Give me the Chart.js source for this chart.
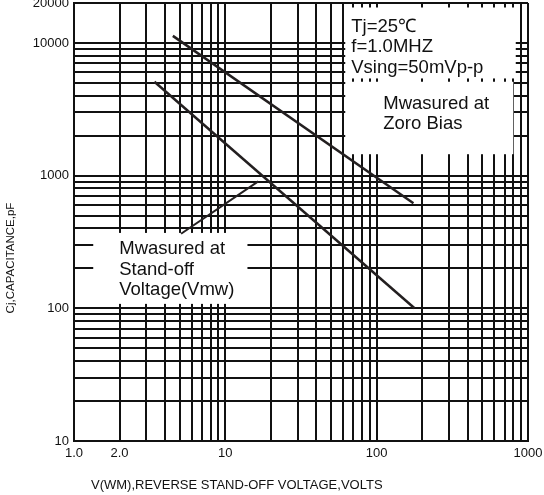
<!DOCTYPE html>
<html>
<head>
<meta charset="utf-8">
<script src="https://cdn.jsdelivr.net/npm/chart.js@4/dist/chart.umd.min.js"></script>
<style>
  html, body { margin: 0; padding: 0; background: #fff; }
  #wrap { width: 544px; height: 495px; }
</style>
</head>
<body>
<div id="wrap"><canvas id="capChart" width="544" height="495"></canvas></div>
<script>
// grid / tick values
const xTicks = [1, 2, 3, 4, 5, 6, 7, 8, 9, 10, 20, 30, 40, 50, 60, 70, 80, 90,
  100, 200, 300, 400, 500, 600, 700, 800, 900, 1000];
const xLabelValues = [1, 2, 10, 100, 1000];
const xLabelText = ["1.0", "2.0", "10", "100", "1000"];

const yTicks = [10, 20, 30, 40, 50, 60, 70, 80, 90, 100, 200, 300, 400, 500, 600, 700, 800, 900,
  1000, 2000, 3000, 4000, 5000, 6000, 7000, 8000, 9000, 10000, 20000];
const yLabelValues = [10, 100, 1000, 10000, 20000];
const yLabelText = ["10", "100", "1000", "10000", "20000"];

// curves
const zeroBiasV = [4.5, 175];
const zeroBiasC = [11300, 620];
const standOffV = [3.4, 178];
const standOffC = [5100, 100];
const pointerV = [5.1, 16.5];
const pointerC = [365, 905];

const notes = [
  { box: [62, 830, 5400, 18500], dx: 6, dy: 19, lines: ["Tj=25\u2103", "f=1.0MHZ", "Vsing=50mVp-p"] },
  { box: [62, 800, 1450, 5100], dx: 38, dy: 22, lines: ["Mwasured at", "Zoro Bias"] },
  { box: [1.34, 14, 108, 370], dx: 26, dy: 16, lines: ["Mwasured at", "Stand-off", "Voltage(Vmw)"] }
];

const INK = "#111";
const LINE = "#231f20";
const FONT = "'Liberation Sans', Arial, sans-serif";

function toPoints(xs, ys) {
  return xs.map((x, i) => ({ x: x, y: ys[i] }));
}

const notesPlugin = {
  id: "notes",
  beforeDatasetsDraw(chart) {
    const { ctx, scales } = chart;
    ctx.save();
    ctx.fillStyle = "#fff";
    notes.forEach((n) => {
      const x0 = scales.x.getPixelForValue(n.box[0]);
      const x1 = scales.x.getPixelForValue(n.box[1]);
      const y0 = scales.y.getPixelForValue(n.box[3]);
      const y1 = scales.y.getPixelForValue(n.box[2]);
      ctx.fillRect(x0, y0, x1 - x0, y1 - y0);
    });
    ctx.restore();
  },
  afterDraw(chart) {
    const { ctx, scales } = chart;
    ctx.save();
    ctx.fillStyle = INK;
    ctx.font = "18.5px " + FONT;
    ctx.textBaseline = "middle";
    ctx.textAlign = "left";
    notes.forEach((n) => {
      const x0 = scales.x.getPixelForValue(n.box[0]);
      const y0 = scales.y.getPixelForValue(n.box[3]);
      n.lines.forEach((t, i) => {
        ctx.fillText(t, x0 + n.dx, y0 + n.dy + i * 20.5);
      });
    });
    // axis titles
    ctx.font = "13px " + FONT;
    ctx.fillText("V(WM),REVERSE STAND-OFF VOLTAGE,VOLTS", 91, 485);
    ctx.translate(11, 258);
    ctx.rotate(-Math.PI / 2);
    ctx.textAlign = "center";
    ctx.font = "11.5px " + FONT;
    ctx.fillText("Cj,CAPACITANCE,pF", 0, 0);
    ctx.restore();
  }
};

new Chart(document.getElementById("capChart"), {
  type: "scatter",
  data: {
    datasets: [
      { data: toPoints(zeroBiasV, zeroBiasC), showLine: true, borderColor: LINE, borderWidth: 2.5, pointRadius: 0 },
      { data: toPoints(standOffV, standOffC), showLine: true, borderColor: LINE, borderWidth: 2.5, pointRadius: 0 },
      { data: toPoints(pointerV, pointerC), showLine: true, borderColor: LINE, borderWidth: 2, pointRadius: 0 }
    ]
  },
  options: {
    responsive: false,
    animation: false,
    devicePixelRatio: 1,
    layout: { padding: { top: 3, right: 16, left: 0, bottom: 0 } },
    plugins: {
      legend: { display: false },
      tooltip: { enabled: false }
    },
    scales: {
      x: {
        type: "logarithmic",
        min: 1,
        max: 1000,
        afterBuildTicks: (s) => { s.ticks = xTicks.map((v) => ({ value: v })); },
        afterFit: (s) => { s.height = 54; s.paddingLeft = 0; s.paddingRight = 0; },
        grid: { color: INK, lineWidth: 2, drawTicks: false },
        border: { color: INK, width: 2 },
        ticks: {
          autoSkip: false,
          maxRotation: 0,
          padding: 5,
          color: INK,
          font: { family: FONT, size: 13 },
          callback: (v) => {
            const i = xLabelValues.indexOf(v);
            return i < 0 ? "" : xLabelText[i];
          }
        }
      },
      y: {
        type: "logarithmic",
        min: 10,
        max: 20000,
        afterBuildTicks: (s) => { s.ticks = yTicks.map((v) => ({ value: v })); },
        afterFit: (s) => { s.width = 74; s.paddingTop = 0; s.paddingBottom = 0; },
        grid: { color: INK, lineWidth: 2, drawTicks: false },
        border: { color: INK, width: 2 },
        ticks: {
          autoSkip: false,
          padding: 5,
          color: INK,
          font: { family: FONT, size: 13 },
          callback: (v) => {
            const i = yLabelValues.indexOf(v);
            return i < 0 ? "" : yLabelText[i];
          }
        }
      }
    }
  },
  plugins: [notesPlugin]
});
</script>
</body>
</html>
